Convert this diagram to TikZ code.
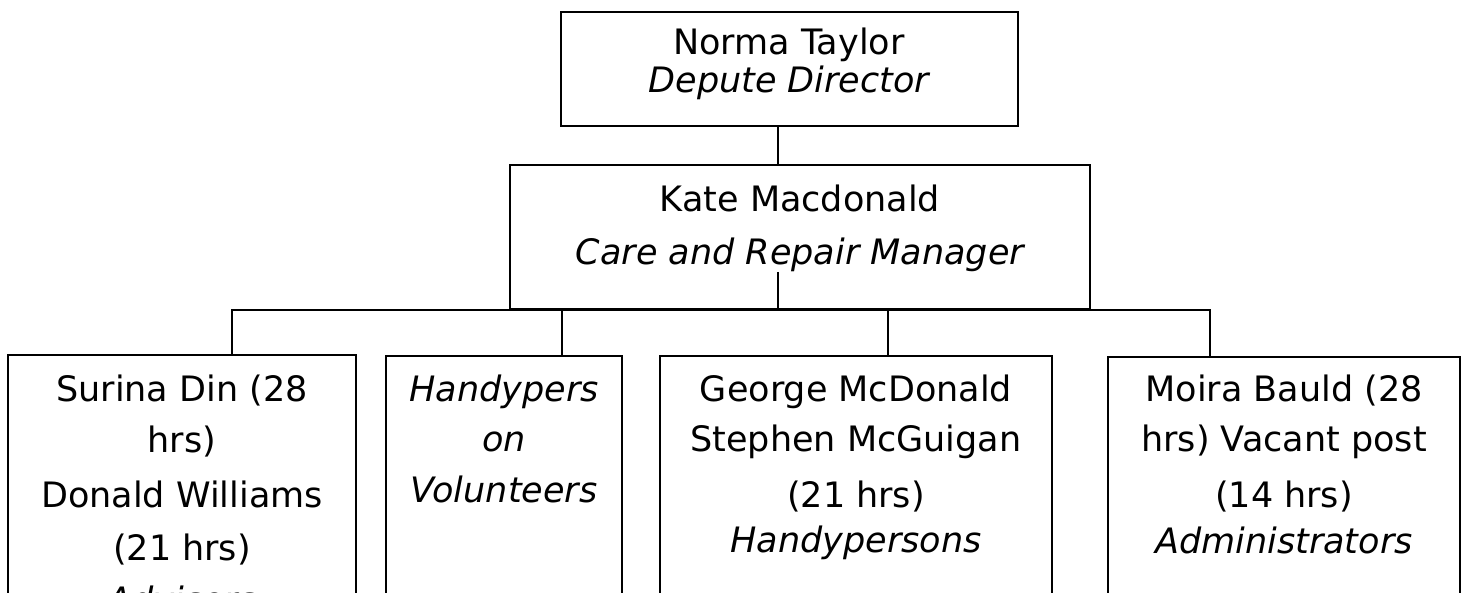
\documentclass[tikz,border=0pt]{standalone}
\usepackage{fontspec}
\setmainfont{DejaVu Sans}
\begin{document}
\begin{tikzpicture}[x=1pt,y=-1pt,
  box/.style={draw=black, line width=1.8pt},
  link/.style={draw=black, line width=1.8pt},
  nm/.style={anchor=base, inner sep=0pt, font=\fontsize{35}{40}\selectfont},
  tl/.style={anchor=base, inner sep=0pt, font=\fontsize{35}{40}\selectfont\itshape}]
\useasboundingbox (0,0) rectangle (1465,593);
\clip (0,0) rectangle (1465,593);
\fill[white] (0,0) rectangle (1465,593);
% boxes
\draw[box] (561,12) rectangle (1018,126);
\draw[box] (510,165) rectangle (1090,309);
\draw[box] (8,355) rectangle (356,640);
\draw[box] (386,356) rectangle (622,640);
\draw[box] (660,356) rectangle (1052,640);
\draw[box] (1108,357) rectangle (1460,640);
% anchor coordinates
\coordinate (topb) at (778,126);
\coordinate (katet) at (778,165);
\coordinate (stub) at (778,272);
\coordinate (busc) at (778,310);
\coordinate (busl) at (232,310);
\coordinate (busr) at (1210,310);
\coordinate (b1t) at (232,355);
\coordinate (b2t) at (562,356);
\coordinate (b3t) at (888,356);
\coordinate (b4t) at (1210,357);
\coordinate (b2b) at (562,310);
\coordinate (b3b) at (888,310);
% connectors
\draw[link] (topb) -- (katet);
\draw[link] (stub) -- (busc);
\draw[link] (b1t) -- (busl) -- (busr) -- (b4t);
\draw[link] (b2b) -- (b2t);
\draw[link] (b3b) -- (b3t);
% texts
\node[nm] (t1) at (789,55) {Norma Taylor};
\node[tl] (t2) at (789,93) {Depute Director};
\node[nm] (k1) at (800,212) {Kate Macdonald};
\node[tl] (k2) at (800,265) {Care and Repair Manager};
\node[nm] (a1) at (182,402) {Surina Din (28};
\node[nm] (a2) at (182,453) {hrs)};
\node[nm] (a3) at (182,507) {Donald Williams};
\node[nm] (a4) at (182,560) {(21 hrs)};
\node[tl] (a5) at (182,612) {Advisors};
\node[tl] (h1) at (504,402) {Handypers};
\node[tl] (h2) at (504,452) {on};
\node[tl] (h3) at (504,502) {Volunteers};
\node[nm] (g1) at (856,402) {George McDonald};
\node[nm] (g2) at (856,452) {Stephen McGuigan};
\node[nm] (g3) at (856,507) {(21 hrs)};
\node[tl] (g4) at (856,552) {Handypersons};
\node[nm] (m1) at (1284,402) {Moira Bauld (28};
\node[nm] (m2) at (1284,452) {hrs) Vacant post};
\node[nm] (m3) at (1284,507) {(14 hrs)};
\node[tl] (m4) at (1284,553) {Administrators};
\end{tikzpicture}
\end{document}
